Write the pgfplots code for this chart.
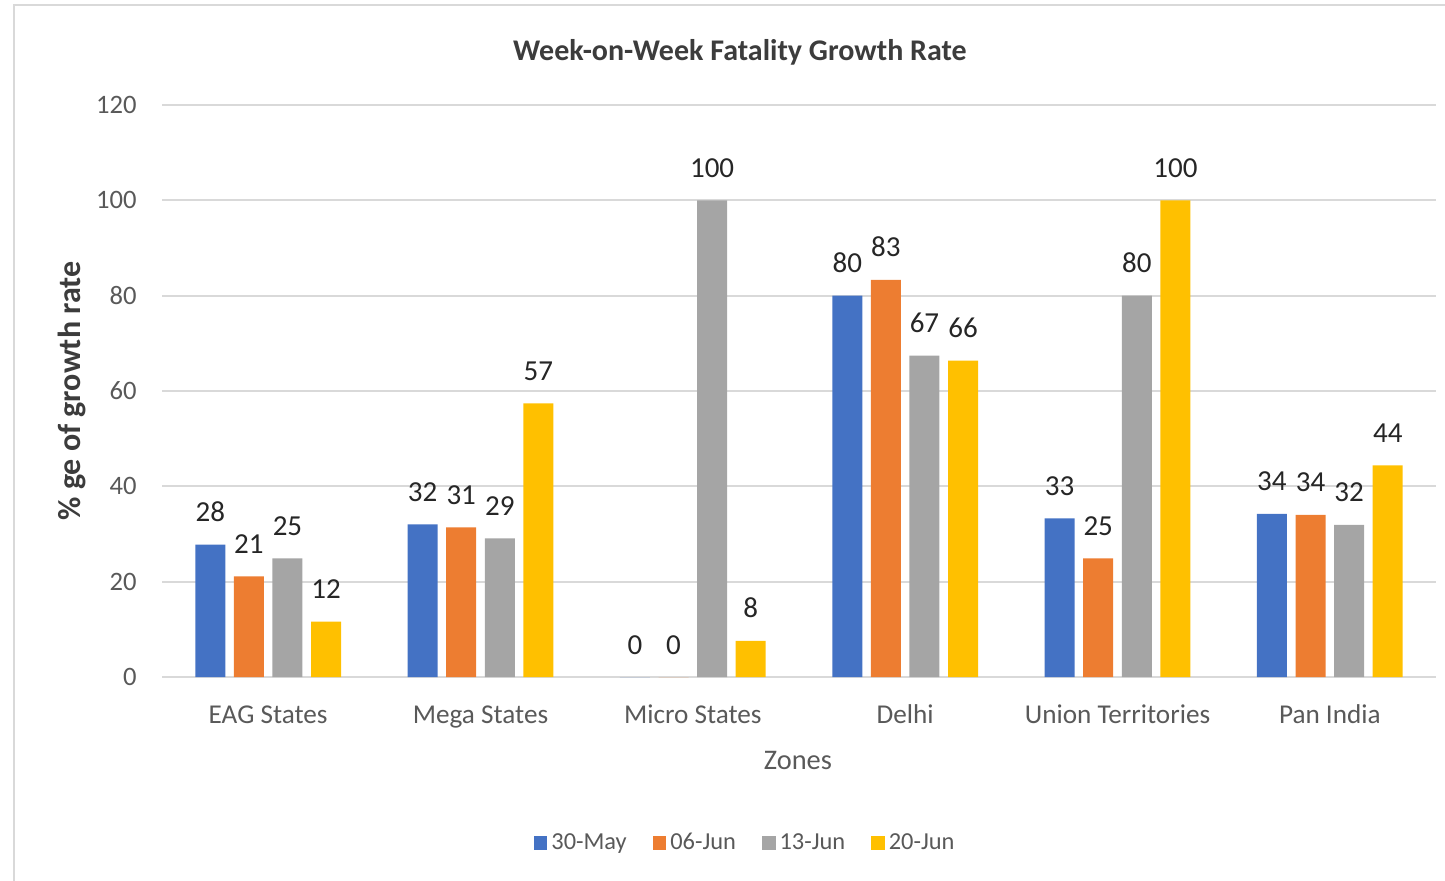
\documentclass[border=0pt]{standalone}
\usepackage{fontspec}
\setmainfont{Carlito}
\usepackage{pgfplots}
\pgfplotsset{compat=1.18}
\definecolor{cblue}{HTML}{4472C4}
\definecolor{corange}{HTML}{ED7D31}
\definecolor{cgray}{HTML}{A5A5A5}
\definecolor{cgold}{HTML}{FFC000}
\definecolor{gridc}{HTML}{D9D9D9}
\definecolor{tc}{HTML}{595959}
\definecolor{dl}{HTML}{262626}
\begin{document}
\begin{tikzpicture}
\useasboundingbox (0,0) rectangle (722.5pt,-440pt);
\draw[color=gridc, line width=1pt] (7pt,-445pt) -- (7pt,-2.5pt) -- (725pt,-2.5pt);
\begin{axis}[
  at={(81pt,-338.5pt)}, anchor=south west,
  scale only axis, width=637pt, height=286pt,
  ybar=4.3pt, bar width=15pt,
  xmin=-0.5, xmax=5.5, ymin=0, ymax=120,
  ytick={0,20,...,120}, xtick={0,...,5},
  xticklabels={EAG States, Mega States, Micro States, Delhi, Union Territories, Pan India},
  axis line style={draw=none}, major tick length=0pt,
  ymajorgrids, grid style={color=gridc, line width=1pt},
  /pgf/number format/assume math mode=true,
  tick label style={font=\fontsize{13.3}{16}\selectfont, color=tc},
  xticklabel style={font=\fontsize{13.6}{16}\selectfont, anchor=base, inner sep=0pt, yshift=-23pt},
  yticklabel style={anchor=east, inner sep=0pt, xshift=-12.5pt},
  nodes near coords={\pgfmathprintnumber[fixed,precision=0]{\pgfplotspointmeta}},
  nodes near coords style={font=\fontsize{14.5}{17}\selectfont, color=dl, anchor=base, inner sep=0pt, yshift=11.5pt},
  title={Week-on-Week Fatality Growth Rate},
  title style={at={(axis description cs:0.4536,1.0715)}, anchor=center, font=\bfseries\fontsize{15}{18}\selectfont, color=dl!90},
  ylabel={\% ge of growth rate},
  ylabel style={at={(axis description cs:-0.0705,0.5)}, anchor=center, font=\bfseries\fontsize{16}{19}\selectfont, color=dl!90},
  xlabel={Zones},
  xlabel style={at={(axis description cs:0.4992,-0.1451)}, anchor=center, font=\fontsize{14.2}{17}\selectfont, color=tc},
  legend style={at={(axis description cs:0.4585,-0.2902)}, anchor=center, draw=none, legend columns=4,
    font=\fontsize{12.2}{14}\selectfont, text=tc, inner sep=0pt,
    /tikz/every even column/.append style={column sep=11pt}},
  legend image code/.code={\fill[#1] (0pt,-3.4pt) rectangle (6.8pt,3.4pt);},
]
\addplot[fill=cblue, draw=none] coordinates {(0,27.8) (1,32.0) (2,0) (3,80) (4,33.3) (5,34.2)};
\addplot[fill=corange, draw=none] coordinates {(0,21.1) (1,31.4) (2,0) (3,83.3) (4,24.9) (5,34.0)};
\addplot[fill=cgray, draw=none] coordinates {(0,24.9) (1,29.1) (2,100) (3,67.4) (4,80) (5,31.9)};
\addplot[fill=cgold, draw=none] coordinates {(0,11.6) (1,57.4) (2,7.6) (3,66.4) (4,100) (5,44.4)};
\legend{30-May, 06-Jun, 13-Jun, 20-Jun}
\end{axis}
\end{tikzpicture}
\end{document}
